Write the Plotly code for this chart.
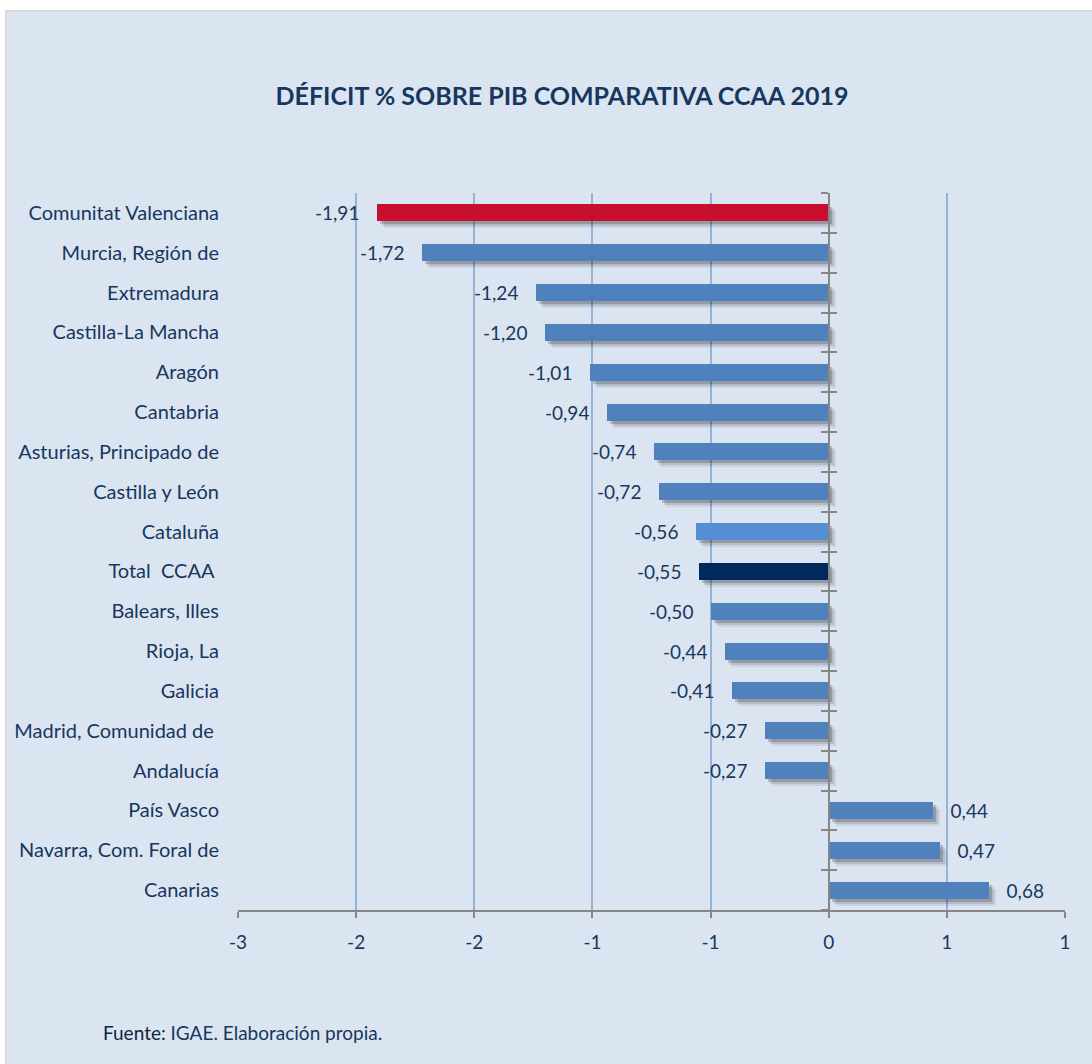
import numpy as np
import plotly.graph_objects as go

# ---- data ----
categories = [
    "Comunitat Valenciana", "Murcia, Región de", "Extremadura", "Castilla-La Mancha",
    "Aragón", "Cantabria", "Asturias, Principado de", "Castilla y León", "Cataluña",
    "Total\u00a0 CCAA\u00a0", "Balears, Illes", "Rioja, La", "Galicia",
    "Madrid, Comunidad de\u00a0", "Andalucía", "País Vasco", "Navarra, Com. Foral de", "Canarias",
]
values = [-1.91, -1.72, -1.24, -1.20, -1.01, -0.94, -0.74, -0.72, -0.56,
          -0.55, -0.50, -0.44, -0.41, -0.27, -0.27, 0.44, 0.47, 0.68]
tick_values = [-2.5, -2.0, -1.5, -1.0, -0.5, 0.0, 0.5, 1.0]
title_text = "DÉFICIT % SOBRE PIB COMPARATIVA CCAA 2019"

# ---- style ----
W, H = 1092, 1064
ML, MR, MT, MB = 238, 27, 193, 154
PW, PH = W - ML - MR, H - MT - MB
XMIN, XMAX = -2.5, 1.0
FONT = "Lato"
FS = 19
TXT = "#17375E"
BLUE = "#4F81BD"
special = {"Comunitat Valenciana": "#C8102E", "Cataluña": "#558ED5", "Total\u00a0 CCAA\u00a0": "#002A5C"}
colors = [special.get(c, BLUE) for c in categories]
BW = 0.43

def px_x(px):
    return (px - ML) / PW

def px_y(py):
    return (H - MB - py) / PH

def tick_label(v):
    r = int(np.sign(v) * np.floor(abs(v) + 0.5))
    return str(r)

ticktext = [tick_label(v) for v in tick_values]

fig = go.Figure()

# soft drop shadows
ux = (XMAX - XMIN) / PW          # data units per px (x)
uy = len(categories) / PH        # category units per px (y)
for d, a in [(7, 0.07), (5, 0.11), (3, 0.18)]:
    fig.add_trace(go.Bar(
        y=categories, x=values, orientation="h",
        base=d * ux, width=BW, offset=-BW / 2 + d * uy,
        marker=dict(color=f"rgba(0,0,0,{a})", line=dict(width=0)),
        hoverinfo="skip", showlegend=False,
    ))

pad = "\u00a0\u00a0\u00a0"
templates = [("%{x:.2f}" + pad) if v < 0 else (pad + "%{x:.2f}") for v in values]
fig.add_trace(go.Bar(
    y=categories, x=values, orientation="h", width=BW,
    marker=dict(color=colors, line=dict(width=0)),
    texttemplate=templates, textposition="outside", constraintext="none",
    textfont=dict(family=FONT, size=FS, color=TXT),
    cliponaxis=False, showlegend=False, hoverinfo="skip",
))

# empty traces so the zero-line axes get drawn
for ax in ["y2", "y3"]:
    fig.add_trace(go.Scatter(x=[None], y=[None], yaxis=ax, mode="markers",
                             showlegend=False, hoverinfo="skip"))

n = len(categories)
bounds = [i - 0.5 for i in range(n + 1)]
zero_pos = (0 - XMIN) / (XMAX - XMIN)

axis_common = dict(
    overlaying="y", anchor="free", position=zero_pos, type="linear",
    range=[n - 0.5, -0.5], tickvals=bounds, showticklabels=False,
    showgrid=False, zeroline=False, showline=True, linecolor="#868686",
    linewidth=2, ticklen=7, tickwidth=2, tickcolor="#868686",
)

fig.update_layout(
    width=W, height=H,
    margin=dict(l=ML, r=MR, t=MT, b=MB),
    paper_bgcolor="white", plot_bgcolor="white",
    barmode="overlay", bargap=0, separators=",.",
    font=dict(family=FONT, size=FS, color=TXT),
    title=dict(text=f"<b>{title_text}</b>", x=562 / W, y=1 - 96 / H,
               xref="container", yref="container", xanchor="center", yanchor="middle",
               font=dict(family=FONT, size=25, color=TXT)),
    xaxis=dict(range=[XMIN, XMAX], tickvals=tick_values, ticktext=ticktext,
               showgrid=True, gridcolor="#95B3D7", gridwidth=1.5, zeroline=False,
               showline=True, linecolor="#868686", linewidth=2,
               ticks="outside", ticklen=6, tickwidth=2, tickcolor="#868686",
               tickfont=dict(family=FONT, size=FS, color=TXT), ticklabelstandoff=8),
    yaxis=dict(type="category", categoryorder="array", categoryarray=categories,
               range=[n - 0.5, -0.5], showgrid=False, zeroline=False, showline=False,
               ticks="", ticklabelstandoff=18,
               tickfont=dict(family=FONT, size=20, color=TXT)),
    yaxis2=dict(ticks="outside", **axis_common),
    yaxis3=dict(ticks="inside", **axis_common),
    hovermode=False,
    shapes=[dict(type="rect", xref="paper", yref="paper", layer="below",
                 x0=px_x(6), x1=px_x(W + 20), y0=px_y(H + 20), y1=px_y(11),
                 fillcolor="#DBE5F1", line=dict(color="#D9D9D9", width=2))],
    annotations=[dict(xref="paper", yref="paper", x=px_x(101), y=px_y(1032),
                      xanchor="left", yanchor="middle", showarrow=False,
                      text="<span style='color:#0F243E'>Fuente:</span> IGAE. Elaboración propia.",
                      font=dict(family=FONT, size=FS, color=TXT))],
)

fig.write_html("out.html", config={"displayModeBar": False},
               post_script="document.body.style.margin='0';")
